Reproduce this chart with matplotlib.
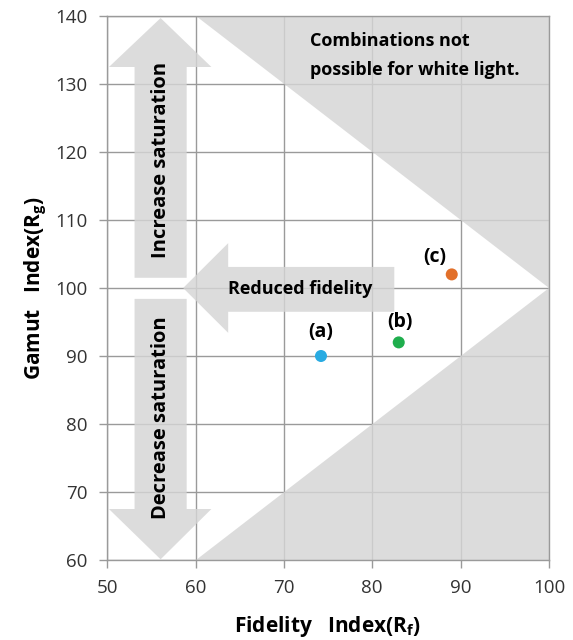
import matplotlib
matplotlib.use("Agg")
import matplotlib.pyplot as plt
from matplotlib.patches import Polygon

plt.rcParams['font.family'] = ['Open Sans', 'DejaVu Sans']
plt.rcParams['mathtext.fontset'] = 'custom'
plt.rcParams['mathtext.rm'] = 'Open Sans:bold'
plt.rcParams['mathtext.it'] = 'Open Sans:bold'
plt.rcParams['mathtext.bf'] = 'Open Sans:bold'

labels = ["(a)", "(b)", "(c)"]
fidelity = [74.2, 83.0, 89.0]
gamut = [90.0, 92.0, 102.0]
colors = ["#29abe2", "#1fae4d", "#e2702a"]
xticks = [50, 60, 70, 80, 90, 100]
yticks = [60, 70, 80, 90, 100, 110, 120, 130, 140]

fig = plt.figure(figsize=(5.73, 6.4), dpi=100)
ax = fig.add_axes([0.187, 0.125, 0.771, 0.85])
ax.set_xlim(50, 100)
ax.set_ylim(60, 140)
ax.set_xticks(xticks)
ax.set_yticks(yticks)
ax.grid(True, color="#9a9a9a", linewidth=1.0, zorder=0)
ax.set_axisbelow(True)
for s in ax.spines.values():
    s.set_color("#9a9a9a")
    s.set_linewidth(1.0)
ax.tick_params(axis='both', colors="#9a9a9a", labelcolor="#333333", labelsize=13.5,
               length=6, width=1.0, direction='out', pad=8)

fill = "#d5d5d5"
a = 0.82
ax.add_patch(Polygon([(60, 140), (100, 140), (100, 100)], closed=True,
                     facecolor=fill, alpha=a, edgecolor='none', zorder=1))
ax.add_patch(Polygon([(60, 60), (100, 60), (100, 100)], closed=True,
                     facecolor=fill, alpha=a, edgecolor='none', zorder=1))

# up arrow
ax.add_patch(Polygon([(53.1, 101.5), (59.0, 101.5), (59.0, 132.5), (61.8, 132.5),
                      (56.05, 139.7), (50.2, 132.5), (53.1, 132.5)], closed=True,
                     facecolor=fill, alpha=a, edgecolor='none', zorder=1))
# down arrow
ax.add_patch(Polygon([(53.1, 98.4), (59.0, 98.4), (59.0, 67.5), (61.8, 67.5),
                      (56.05, 60.1), (50.2, 67.5), (53.1, 67.5)], closed=True,
                     facecolor=fill, alpha=a, edgecolor='none', zorder=1))
# left arrow
ax.add_patch(Polygon([(82.5, 103.1), (63.7, 103.1), (63.7, 106.6), (58.6, 100.0),
                      (63.7, 93.4), (63.7, 96.5), (82.5, 96.5)], closed=True,
                     facecolor=fill, alpha=a, edgecolor='none', zorder=1))

ax.text(56.05, 118.8, "Increase saturation", rotation=90, ha='center', va='center',
        fontsize=14.5, fontweight='bold', color='black', zorder=3)
ax.text(56.05, 81.0, "Decrease saturation", rotation=90, ha='center', va='center',
        fontsize=14.5, fontweight='bold', color='black', zorder=3)
ax.text(71.8, 99.8, "Reduced fidelity", ha='center', va='center',
        fontsize=13, fontweight='bold', color='black', zorder=3)
ax.text(73.0, 134.2, "Combinations not\npossible for white light.", ha='left', va='center',
        fontsize=13, fontweight='bold', color='black', linespacing=1.8, zorder=3)

ax.scatter(fidelity, gamut, s=75, c=colors, zorder=4, edgecolors='none')
offsets = [(0.0, 3.6), (0.1, 3.0), (-1.9, 2.5)]
for lab, x, y, (dx, dy) in zip(labels, fidelity, gamut, offsets):
    ax.text(x + dx, y + dy, lab, ha='center', va='center', fontsize=14,
            fontweight='bold', color='black', zorder=4)

ax.set_xlabel(r"Fidelity   Index(R$_\mathrm{f}$)", fontsize=15, fontweight='bold', labelpad=12)
ax.set_ylabel(r"Gamut   Index(R$_\mathrm{g}$)", fontsize=15, fontweight='bold', labelpad=5)

fig.savefig("out.png", dpi=100)
